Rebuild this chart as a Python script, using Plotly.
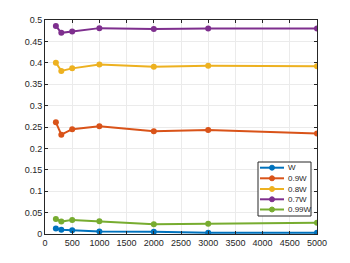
import plotly.graph_objects as go

x = [200, 300, 500, 1000, 2000, 3000, 5000]
names = ["W", "0.9W", "0.8W", "0.7W", "0.99W"]
y_W = [0.013, 0.010, 0.009, 0.006, 0.005, 0.003, 0.003]
y_09W = [0.261, 0.232, 0.245, 0.252, 0.240, 0.243, 0.235]
y_08W = [0.400, 0.381, 0.387, 0.396, 0.391, 0.393, 0.392]
y_07W = [0.486, 0.470, 0.473, 0.481, 0.479, 0.480, 0.480]
y_099W = [0.035, 0.029, 0.033, 0.030, 0.023, 0.024, 0.026]
series = [y_W, y_09W, y_08W, y_07W, y_099W]
colors = ["#0072BD", "#D95319", "#EDB120", "#7E2F8E", "#77AC30"]

W, H = 350, 263
L, R, T, B = 45, 33, 20, 29
pw, ph = W - L - R, H - T - B

def px(xp):
    return (xp - L) / pw

def py(yp):
    return (H - B - yp) / ph

fig = go.Figure()
for n, ys, c in zip(names, series, colors):
    fig.add_trace(go.Scatter(x=x, y=ys, name=n, mode="lines+markers",
                             line=dict(color=c, width=2),
                             marker=dict(color=c, size=6),
                             showlegend=False))

# custom compact legend (MATLAB style)
shapes = [dict(type="rect", xref="paper", yref="paper",
               x0=px(258), x1=px(311), y0=py(216), y1=py(162),
               line=dict(color="#262626", width=1), fillcolor="white", layer="above")]
annotations = []
item_y = [167.7, 178.3, 189, 199.3, 209.5]
for n, c, yy in zip(names, colors, item_y):
    shapes.append(dict(type="line", xref="paper", yref="paper",
                       x0=px(260), x1=px(284), y0=py(yy), y1=py(yy),
                       line=dict(color=c, width=2), layer="above"))
    shapes.append(dict(type="circle", xref="paper", yref="paper",
                       x0=px(269.5), x1=px(274.5), y0=py(yy + 2.5), y1=py(yy - 2.5),
                       line=dict(color=c, width=1), fillcolor=c, layer="above"))
    annotations.append(dict(text=n, xref="paper", yref="paper", x=px(286), y=py(yy),
                            xanchor="left", yanchor="middle", showarrow=False,
                            font=dict(family="Liberation Sans, Arial", size=8, color="#262626")))

axis_common = dict(showline=True, linecolor="#262626", linewidth=1, mirror="ticks",
                   ticks="inside", ticklen=3, tickcolor="#262626",
                   showgrid=True, gridcolor="#ebebeb", zeroline=False,
                   tickfont=dict(family="Liberation Sans, Arial", size=9, color="#262626"))
fig.update_xaxes(range=[0, 5000], dtick=500, tick0=0, **axis_common)
fig.update_yaxes(range=[0, 0.5], dtick=0.05, tick0=0, **axis_common)

fig.update_layout(width=W, height=H, margin=dict(l=L, r=R, t=T, b=B),
                  plot_bgcolor="white", paper_bgcolor="white",
                  showlegend=False, shapes=shapes, annotations=annotations)
fig.write_html("out.html", config={"displayModeBar": False},
               post_script="document.body.style.margin='0';document.body.style.overflow='hidden';")
